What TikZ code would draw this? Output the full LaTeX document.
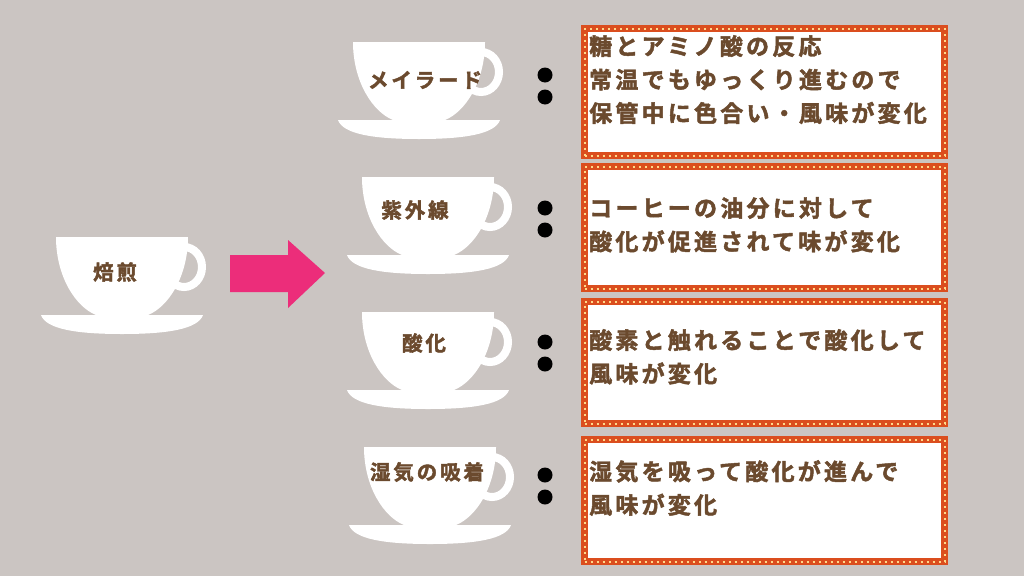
\documentclass[tikz,border=0pt]{standalone}
\usepackage{fontspec}
\newfontfamily\jp{Noto Sans CJK JP}[LetterSpace=14,BoldFont={* Bold},BoldFeatures={FakeBold=2}]
\definecolor{bg}{HTML}{CBC5C2}
\definecolor{brn}{HTML}{6B4A2E}
\definecolor{frame}{HTML}{DB4E1E}
\definecolor{bulb}{HTML}{FFD98A}
\definecolor{pinkA}{HTML}{EC2D7A}
\begin{document}
\begin{tikzpicture}[x=1pt,y=-1pt,
  lbl/.style={font=\jp\bfseries\fontsize{20.5}{22}\selectfont,text=brn},
  boxtxt/.style={font=\jp\bfseries\fontsize{23}{33.5}\selectfont,text=brn,align=left,anchor=north west,inner sep=0pt},
  dotc/.style={fill=black,circle,inner sep=0pt,minimum size=15pt},
  pics/cup/.style={code={
    \fill[white] (0,0) -- (132,0) .. controls (132,40) and (112,70) .. (92,78) -- (40,78) .. controls (20,70) and (0,40) .. cycle;
    \draw[white,line width=8pt] (128,30) circle[x radius=18,y radius=20];
    \fill[white] (-15,78) -- (147,78) .. controls (142,92) and (112,97) .. (66,97) .. controls (20,97) and (-10,92) .. cycle;
  }},
  mbox/.style={draw=frame,line width=7pt,fill=white,minimum width=360pt,anchor=north west,inner sep=0pt,
    postaction={draw=bulb,line width=2pt,dash pattern=on 2pt off 4pt}}]
\fill[bg] (0,0) rectangle (1024,576);
\useasboundingbox (0,0) rectangle (1024,576);
% cups
\pic at (56,237) {cup};
\pic at (353,42) {cup};
\pic at (362,177) {cup};
\pic at (362,312) {cup};
\pic at (364,447) {cup};
\node[lbl] (c0) at (115,272) {焙煎};
\node[lbl] (c1) at (425,80) {メイラード};
\node[lbl] (c2) at (415,210) {紫外線};
\node[lbl] (c3) at (424,343) {酸化};
\node[lbl] (c4) at (427,472) {湿気の吸着};
% arrow
\fill[pinkA] (230,255) -- (288,255) -- (288,240) -- (325,273) -- (288,308) -- (288,292) -- (230,292) -- cycle;
% dots
\foreach \y [count=\i] in {75,208,342,475}{
  \node[dotc] (da\i) at (545,\y) {};
  \node[dotc] (db\i) at (545,\y+22) {};
}
% boxes
\node[mbox,minimum height=127pt] (b1) at (581,25) {};
\node[mbox,minimum height=122pt] (b2) at (581,163) {};
\node[mbox,minimum height=122pt] (b3) at (581,298) {};
\node[mbox,minimum height=122pt] (b4) at (581,436) {};
\node[boxtxt] (t1) at (589,35) {糖とアミノ酸の反応\\常温でもゆっくり進むので\\保管中に色合い・風味が変化};
\node[boxtxt] (t2) at (589,197) {コーヒーの油分に対して\\酸化が促進されて味が変化};
\node[boxtxt] (t3) at (589,329) {酸素と触れることで酸化して\\風味が変化};
\node[boxtxt] (t4) at (589,460) {湿気を吸って酸化が進んで\\風味が変化};
\end{tikzpicture}
\end{document}
